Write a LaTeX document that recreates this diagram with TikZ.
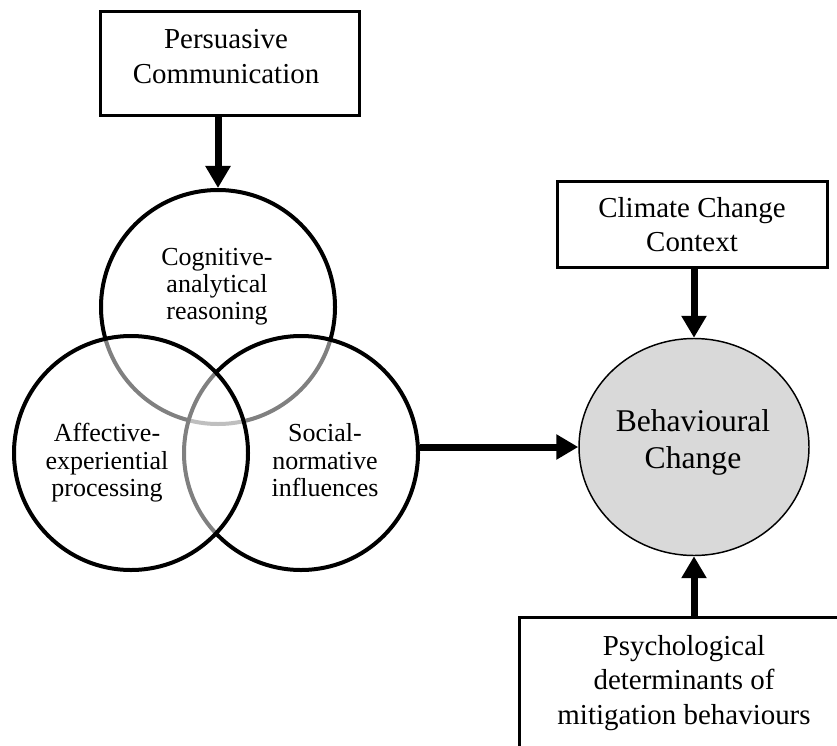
\documentclass[tikz,border=0pt]{standalone}
\usepackage{fontspec}
\setmainfont{Liberation Serif}
\usetikzlibrary{arrows.meta,shapes.geometric}
\definecolor{behgray}{HTML}{D9D9D9}
\newcommand\boxfont{\fontsize{21.7}{25.9}\selectfont}
\newcommand\venfont{\fontsize{19.5}{20.6}\selectfont}
\newcommand\behfont{\fontsize{23.7}{28.3}\selectfont}
\begin{document}
\begin{tikzpicture}[x=0.75pt,y=-0.75pt,
  box/.style={draw, line width=2.25pt, rectangle, inner sep=0pt, align=center, font=\boxfont},
  label text/.style={align=center, inner sep=0pt},
  venn/.style={draw, circle, line width=3pt, minimum size=175.5pt, inner sep=0pt},
  veil/.style={fill=white, fill opacity=0.5},
  arr/.style={line width=5.25pt, -{Triangle[length=16.5pt,width=18pt]}}]
\useasboundingbox (0,0) rectangle (837,745);
\clip (0,0) rectangle (837,745);

% source of the message
\node[box, minimum width=194.25pt, minimum height=78pt] (pc) at (229.5,64) {};
\node[label text, font=\boxfont] (pctext) at (226,56.3) {Persuasive\\Communication};

% three overlapping processing routes; later circles veil the earlier outlines
\node[venn] (cog) at (218,307) {};
\node[venn, veil] (soc) at (301,453) {};
\node[venn, veil] (aff) at (131,453) {};
\node[label text, font=\venfont] (cogtext) at (217,286.7) {Cognitive-\\analytical\\reasoning};
\node[label text, font=\venfont] (afftext) at (107,463) {Affective-\\experiential\\processing};
\node[label text, font=\venfont] (soctext) at (325,460.5) {Social-\\normative\\influences};

% outcome
\node[draw, ellipse, line width=1.1pt, fill=behgray, minimum width=172.5pt,
      minimum height=162.75pt, inner sep=0pt] (beh) at (694,447) {};
\node[label text, font=\behfont] (behtext) at (693,442.5) {Behavioural\\Change};

% moderating influences
\node[box, minimum width=202.5pt, minimum height=64.5pt] (ccc) at (692,224.5) {Climate Change\\Context};
\node[box, minimum width=247.5pt, minimum height=99pt] (psy) at (684,683) {Psychological\\determinants of\\mitigation behaviours};

% connectors
\draw[arr] (cog.north |- pc.south) -- (cog.north);
\draw[arr] (soc.east |- beh.west) -- (beh.west);
\draw[arr] (ccc.south -| beh.north) -- (beh.north);
\draw[arr] (beh.south |- psy.north) -- (beh.south);
\end{tikzpicture}
\end{document}
